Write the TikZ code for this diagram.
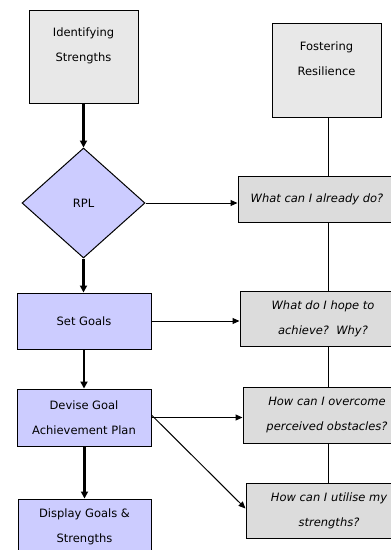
\documentclass[tikz,border=0pt]{standalone}
\usepackage{fontspec}
\setmainfont{DejaVu Sans}
\usetikzlibrary{shapes.geometric,arrows.meta}
\definecolor{topgrey}{HTML}{E8E8E8}
\definecolor{qgrey}{HTML}{DCDCDC}
\definecolor{lblue}{HTML}{CCCCFF}
\begin{document}
\begin{tikzpicture}[x=1pt,y=-1pt,
  every node/.style={font=\fontsize{11.5}{25}\selectfont, align=center, inner sep=0pt},
  topbox/.style={draw=black, line width=1pt, fill=topgrey, minimum width=109pt, minimum height=93pt},
  qbox/.style={draw=black, line width=1pt, fill=qgrey, minimum height=55pt, font=\fontsize{11.5}{25}\selectfont\itshape},
  bluebox/.style={draw=black, line width=1pt, fill=lblue, minimum width=134pt, minimum height=56pt},
  bigarrow/.style={line width=2.2pt, -{Triangle[length=7pt,width=7pt]}},
  thinarrow/.style={line width=1pt, -{Triangle[length=7pt,width=6pt]}},
  thinline/.style={line width=1pt}]
\useasboundingbox (0,0) rectangle (391,550);
\clip (0,0) rectangle (391,550);

\node[topbox, label={[name=idst, anchor=north, yshift=-18.5pt]north:Identifying\\Strengths}] (ids) at (83.5,56.5) {};
\node[topbox, minimum height=94pt, label={[name=fost, anchor=north, yshift=-19pt]north:Fostering\\Resilience}] (fos) at (326.5,70) {};

\node[diamond, draw=black, line width=1pt, fill=lblue, minimum width=123pt, minimum height=110pt] (rpl) at (83.5,203) {RPL};

\node[qbox, minimum width=158pt, minimum height=46pt] (q1) at (317,199) {What can I already do?};
\node[qbox, minimum width=166pt] (q2) at (323,318.5) {What do I hope to\\achieve?\ \ Why?};
\node[qbox, minimum width=168pt, minimum height=56pt] (q3) at (327,415) {How can I overcome\\perceived obstacles?};
\node[qbox, minimum width=166pt] (q4) at (329,510.5) {How can I utilise my\\strengths?};

\node[bluebox] (sg) at (84,321) {Set Goals};
\node[bluebox, minimum height=57pt] (dev) at (84,417.5) {Devise Goal\\Achievement Plan};
\node[bluebox, minimum width=133pt, minimum height=56pt] (dis) at (84.5,527) {Display Goals \&\\Strengths};

\coordinate (vx) at (328,0);

\draw[bigarrow] (ids.south) -- (rpl.north);
\draw[bigarrow] (rpl.south) -- (rpl.south |- sg.north);
\draw[bigarrow] (sg.south) -- (sg.south |- dev.north);
\draw[bigarrow] ([xshift=0.5pt]dev.south) -- ([xshift=0.5pt]dev.south |- dis.north);

\draw[thinarrow] (rpl.east) -- (rpl.east -| q1.west);
\draw[thinarrow] (sg.east) -- (sg.east -| q2.west);
\draw[thinarrow] (dev.east) -- (dev.east -| q3.west);
\draw[thinarrow] ([yshift=2.5pt]dev.east) -- ([yshift=2pt]q4.west);

\draw[thinline] (vx |- fos.south) -- (vx |- q1.north);
\draw[thinline] (vx |- q1.south) -- (vx |- q2.north);
\draw[thinline] (vx |- q2.south) -- (vx |- q3.north);
\draw[thinline] (vx |- q3.south) -- (vx |- q4.north);
\end{tikzpicture}
\end{document}
